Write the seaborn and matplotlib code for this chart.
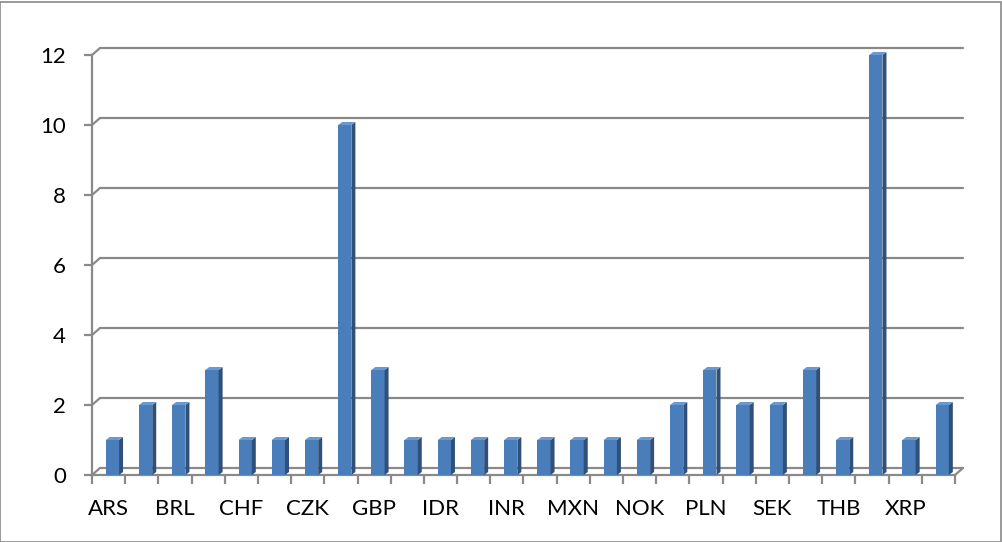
import numpy as np
import pandas as pd
import matplotlib
matplotlib.use("Agg")
import matplotlib.pyplot as plt
import matplotlib.transforms as mtransforms
from matplotlib.patches import Polygon, Rectangle
import seaborn as sns

currencies = ["ARS", "AUD", "BRL", "CAD", "CHF", "CNY", "CZK", "EUR", "GBP", "HKD",
              "IDR", "ILS", "INR", "JPY", "MXN", "MYR", "NOK", "NZD", "PLN", "RUB",
              "SEK", "SGD", "THB", "USD", "XRP", "ZAR"]
counts = [1, 2, 2, 3, 1, 1, 1, 10, 3, 1, 1, 1, 1, 1, 1, 1, 1, 2, 3, 2, 2, 3, 1, 12, 1, 2]
y_ticks = [0, 2, 4, 6, 8, 10, 12]

df = pd.DataFrame({"currency": currencies, "count": counts})

sns.set_theme(style="white")
plt.rcParams["font.family"] = ["Lato", "DejaVu Sans"]

W, H = 1003, 542
fig = plt.figure(figsize=(W / 100, H / 100), dpi=100)
ax_l, ax_b, ax_w, ax_h = 92, 67, 863, 420   # front plane in pixels
ax = fig.add_axes([ax_l / W, ax_b / H, ax_w / W, ax_h / H])

grey = "#898989"
front = "#4a7ebb"
side = "#30507a"
top = "#6a98d0"
PT = 0.72  # points per pixel at dpi 100

sns.barplot(data=df, x="currency", y="count", color=front, width=0.4,
            saturation=1, ax=ax, zorder=3, errorbar=None)
n = len(currencies)
ax.set_xlim(-0.5, n - 0.5)
ax.set_ylim(0, 12)

# pseudo-3D depth (pixels)
back_dx, back_dy = 8, 7
bar_dx, bar_dy = 4, 3
ux = n / ax_w          # data units per pixel in x
uy = 12 / ax_h         # data units per pixel in y
shift = 3.8 * ux

for p in ax.patches:
    p.set_x(p.get_x() + shift)
    p.set_linewidth(0)
    x0, w, h = p.get_x(), p.get_width(), p.get_height()
    x1 = x0 + w
    ax.add_patch(Polygon([(x1, 0), (x1, h), (x1 + bar_dx * ux, h + bar_dy * uy),
                          (x1 + bar_dx * ux, bar_dy * uy)], closed=True,
                         facecolor=side, edgecolor="none", zorder=3, clip_on=False))
    ax.add_patch(Polygon([(x0, h), (x1, h), (x1 + bar_dx * ux, h + bar_dy * uy),
                          (x0 + bar_dx * ux, h + bar_dy * uy)], closed=True,
                         facecolor=top, edgecolor="none", zorder=3, clip_on=False))

# back wall gridlines + diagonal joins
lw = 2.2 * PT
back = mtransforms.offset_copy(ax.transData, fig=fig, x=back_dx, y=back_dy, units="dots")
for yv in y_ticks:
    ax.plot([-0.5, n - 0.5], [yv, yv], color=grey, lw=lw, transform=back,
            clip_on=False, zorder=1)
    ax.plot([-0.5, -0.5 + back_dx * ux], [yv, yv + back_dy * uy], color=grey, lw=lw,
            clip_on=False, zorder=1)
ax.plot([n - 0.5, n - 0.5 + back_dx * ux], [0, back_dy * uy], color=grey, lw=lw,
        clip_on=False, zorder=1)

for s in ["top", "right"]:
    ax.spines[s].set_visible(False)
for s in ["left", "bottom"]:
    ax.spines[s].set_color(grey)
    ax.spines[s].set_linewidth(lw)

ax.set_yticks(y_ticks)
ax.tick_params(axis="y", length=8 * PT, width=lw, color=grey, pad=18 * PT, labelsize=16,
               labelcolor="black", left=True)
ax.set_xticks(range(0, n, 2))
ax.set_xticklabels(currencies[0::2])
ax.set_xticks(np.arange(-0.5, n, 1), minor=True)
ax.tick_params(axis="x", which="major", length=0, pad=24 * PT, labelsize=16,
               labelcolor="black")
ax.tick_params(axis="x", which="minor", length=9 * PT, width=lw, color=grey, bottom=True)
ax.set_xlabel("")
ax.set_ylabel("")
ax.grid(False)

fig.patches.append(Rectangle((0.5 / W, 0.5 / H), (W - 2) / W, (H - 2) / H,
                             transform=fig.transFigure, fill=False,
                             edgecolor=grey, lw=1.2))

fig.savefig("out.png", dpi=100)
